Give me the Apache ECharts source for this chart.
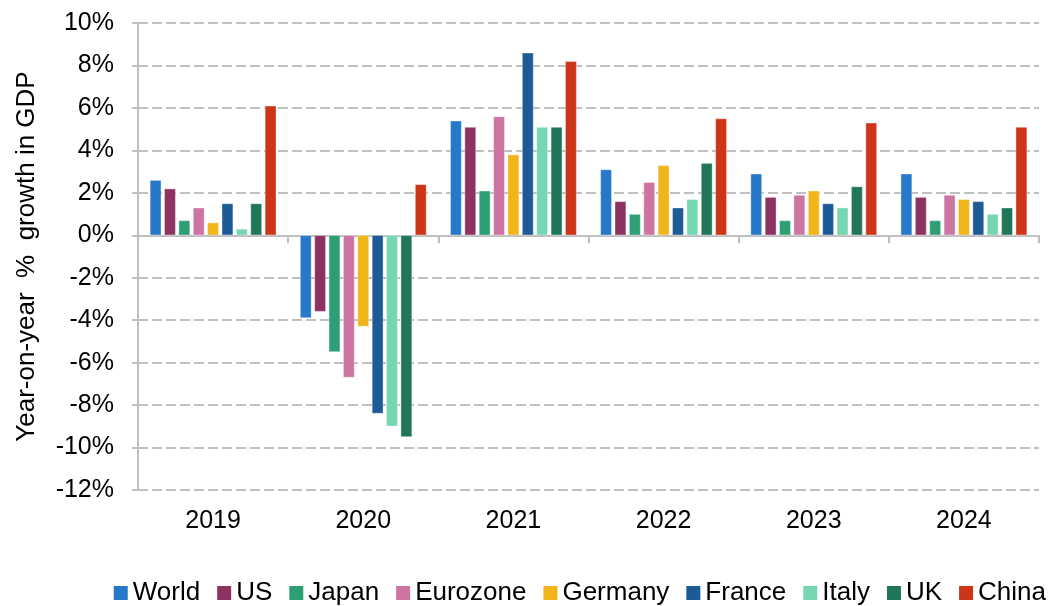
<!DOCTYPE html>
<html>
<head>
<meta charset="utf-8">
<script src="https://cdn.jsdelivr.net/npm/echarts@6/dist/echarts.min.js"></script>
<style>
  html, body { margin: 0; padding: 0; background: #fff; }
  #chart { width: 1056px; height: 606px; }
</style>
</head>
<body>
<div id="chart"></div>
<script>
// years on the category axis
const years = ['2019', '2020', '2021', '2022', '2023', '2024'];

// year-on-year GDP growth, %
const world    = [2.6, -3.9, 5.4, 3.1, 2.9, 2.9];
const us       = [2.2, -3.6, 5.1, 1.6, 1.8, 1.8];
const japan    = [0.7, -5.5, 2.1, 1.0, 0.7, 0.7];
const eurozone = [1.3, -6.7, 5.6, 2.5, 1.9, 1.9];
const germany  = [0.6, -4.3, 3.8, 3.3, 2.1, 1.7];
const france   = [1.5, -8.4, 8.6, 1.3, 1.5, 1.6];
const italy    = [0.3, -9.0, 5.1, 1.7, 1.3, 1.0];
const uk       = [1.5, -9.5, 5.1, 3.4, 2.3, 1.3];
const china    = [6.1, 2.4, 8.2, 5.5, 5.3, 5.1];

const names  = ['World', 'US', 'Japan', 'Eurozone', 'Germany', 'France', 'Italy', 'UK', 'China'];
const values = [world, us, japan, eurozone, germany, france, italy, uk, china];
const colors = ['#2878C9', '#8E3361', '#2E9E74', '#CE74A1', '#F1B519', '#1D5A96', '#76D6B1', '#227658', '#CC3518'];

const font = 'Arial, "Liberation Sans", sans-serif';
const gray = '#BFBFBF';

let myChart = echarts.init(document.getElementById('chart'));
myChart.setOption({
  animation: false,
  color: colors,
  textStyle: { fontFamily: font },
  grid: {
    left: 138,
    right: 17,
    top: 23,
    bottom: 116
  },
  legend: {
    data: names,
    top: 575,
    right: 5,
    itemWidth: 14,
    itemHeight: 14,
    itemGap: 17,
    icon: 'rect',
    itemStyle: { borderWidth: 0 },
    textStyle: { fontSize: 26, color: '#000', fontFamily: font }
  },
  xAxis: [
    {
      // labels only, at the bottom
      type: 'category',
      data: years,
      position: 'bottom',
      axisLine: { show: false, onZero: false },
      axisTick: { show: false },
      axisLabel: { fontSize: 25, color: '#000', margin: 19 }
    },
    {
      // zero line with ticks between years
      type: 'category',
      data: years,
      position: 'bottom',
      axisLine: { show: true, onZero: true, lineStyle: { color: gray, width: 2 } },
      axisTick: { show: true, length: 8, lineStyle: { color: gray, width: 2 } },
      axisLabel: { show: false }
    }
  ],
  yAxis: {
    type: 'value',
    min: -12,
    max: 10,
    interval: 2,
    name: 'Year-on-year  %  growth in GDP',
    nameLocation: 'middle',
    nameGap: 98,
    nameTextStyle: { fontSize: 26, color: '#000' },
    axisLine: { show: true, lineStyle: { color: gray, width: 2 } },
    axisTick: { show: true, length: 6, lineStyle: { color: gray, width: 2 } },
    axisLabel: { fontSize: 25, color: '#000', margin: 24, formatter: '{value}%' },
    splitLine: { lineStyle: { color: gray, width: 2, type: [10, 4] } }
  },
  series: names.map((n, i) => ({
    name: n,
    type: 'bar',
    xAxisIndex: 0,
    data: values[i],
    barWidth: 11.5,
    barGap: '25%',
    itemStyle: { borderColor: 'rgba(255,255,255,0.6)', borderWidth: 0.6 }
  }))
});
</script>
</body>
</html>
